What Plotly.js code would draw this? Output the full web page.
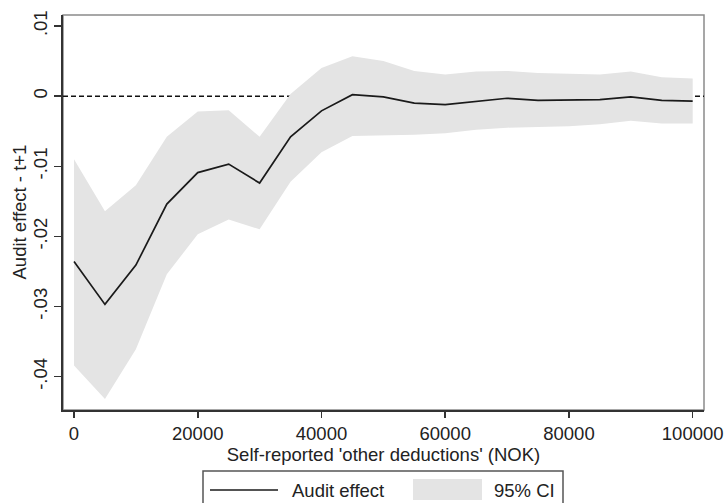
<!DOCTYPE html>
<html>
<head>
<meta charset="utf-8">
<script src="https://cdn.plot.ly/plotly-3.0.1.min.js"></script>
<style>html,body{margin:0;padding:0;background:#fff;}#chart{width:726px;height:503px;}</style>
</head>
<body>
<div id="chart"></div>
<script>
// Data
const deductions = [0,5000,10000,15000,20000,25000,30000,35000,40000,45000,50000,55000,60000,65000,70000,75000,80000,85000,90000,95000,100000];
const auditEffect = [-0.0236,-0.0297,-0.0241,-0.0154,-0.0109,-0.0097,-0.0124,-0.0058,-0.0021,0.0002,-0.0001,-0.0010,-0.0012,-0.0007,-0.0003,-0.0006,-0.0005,-0.0005,-0.0001,-0.0006,-0.0007];
const ciUpper = [-0.0090,-0.0164,-0.0127,-0.0058,-0.0022,-0.0020,-0.0058,0.0003,0.0040,0.0057,0.0050,0.0036,0.0031,0.0035,0.0036,0.0033,0.0032,0.0031,0.0035,0.0027,0.0025];
const ciLower = [-0.0384,-0.0432,-0.0361,-0.0254,-0.0197,-0.0176,-0.0190,-0.0122,-0.0080,-0.0057,-0.0056,-0.0055,-0.0053,-0.0048,-0.0045,-0.0044,-0.0043,-0.0040,-0.0035,-0.0039,-0.0039];
const yTickVals = [0.01,0,-0.01,-0.02,-0.03,-0.04];
const yTickText = [".01","0","-.01","-.02","-.03","-.04"];
const xTickVals = [0,20000,40000,60000,80000,100000];
const xTickText = ["0","20000","40000","60000","80000","100000"];
const seriesNames = ["Audit effect","95% CI"];
const xTitle = "Self-reported 'other deductions' (NOK)";
const yTitle = "Audit effect - t+1";

const font = "Arial, 'Liberation Sans', Helvetica, sans-serif";
const fs = 18.5;

const bandX = deductions.concat(deductions.slice().reverse());
const bandY = ciUpper.concat(ciLower.slice().reverse());

const traces = [
  {x: bandX, y: bandY, type: 'scatter', mode: 'lines', fill: 'toself',
   fillcolor: '#e4e4e4', line: {width: 0, color: '#e4e4e4'}, name: seriesNames[1],
   showlegend: false, hoverinfo: 'skip'},
  {x: deductions, y: auditEffect, type: 'scatter', mode: 'lines',
   line: {color: '#1a1a1a', width: 1.7}, name: seriesNames[0], showlegend: false}
];

const legY = -(490-410)/395;
const layout = {
  width: 726, height: 503,
  margin: {l: 63, r: 22, t: 15, b: 93},
  paper_bgcolor: '#ffffff', plot_bgcolor: '#ffffff',
  font: {family: font, size: fs, color: '#222'},
  showlegend: false,
  xaxis: {
    range: [-1780, 101830], showgrid: false, zeroline: false,
    showline: true, linecolor: '#333', linewidth: 2,
    ticks: 'outside', ticklen: 6, tickwidth: 1.5, tickcolor: '#333',
    tickmode: 'array', tickvals: xTickVals, ticktext: xTickText,
    tickfont: {size: fs, color: '#222'},
    title: {text: xTitle, font: {size: fs, color: '#222'}, standoff: 0}
  },
  yaxis: {
    range: [-0.04476, 0.01157], showgrid: false, zeroline: false,
    showline: true, linecolor: '#333', linewidth: 2,
    ticks: 'outside', ticklen: 7, tickwidth: 1.5, tickcolor: '#333',
    tickmode: 'array', tickvals: yTickVals, ticktext: yTickText, tickangle: -90,
    tickfont: {size: fs, color: '#222'}
  },
  shapes: [
    {type: 'rect', xref: 'paper', yref: 'paper', x0: 0, x1: 1, y0: 0, y1: 1,
     line: {color: '#8a8a8a', width: 1.5}, layer: 'below'},
    {type: 'line', xref: 'paper', yref: 'y', x0: 0, x1: 1, y0: 0, y1: 0,
     line: {color: '#111', width: 1.5, dash: '5px,3px'}, layer: 'below'},
    // legend box
    {type: 'rect', xref: 'paper', yref: 'paper', x0: (203-63)/641, x1: (563-63)/641,
     y0: -0.30, y1: -(471-410)/395, line: {color: '#555', width: 1.5}, fillcolor: 'rgba(0,0,0,0)'},
    {type: 'line', xref: 'paper', yref: 'paper', x0: (210-63)/641, x1: (278-63)/641,
     y0: legY, y1: legY, line: {color: '#1a1a1a', width: 1.7}},
    {type: 'rect', xref: 'paper', yref: 'paper', x0: (413-63)/641, x1: (482-63)/641,
     y0: -(500-410)/395, y1: -(479-410)/395, line: {width: 0}, fillcolor: '#e4e4e4'}
  ],
  annotations: [
    {text: yTitle, xref: 'paper', yref: 'paper', x: (19-63)/641, y: 0.5, textangle: -90,
     xanchor: 'center', yanchor: 'middle', showarrow: false, font: {size: fs, color: '#222'}},
    {text: seriesNames[0], xref: 'paper', yref: 'paper', x: (290-63)/641, y: legY,
     xanchor: 'left', yanchor: 'middle', showarrow: false, font: {size: fs, color: '#222'}},
    {text: seriesNames[1], xref: 'paper', yref: 'paper', x: (492-63)/641, y: legY,
     xanchor: 'left', yanchor: 'middle', showarrow: false, font: {size: fs, color: '#222'}}
  ]
};

Plotly.newPlot('chart', traces, layout, {displayModeBar: false, staticPlot: true});
</script>
</body>
</html>
